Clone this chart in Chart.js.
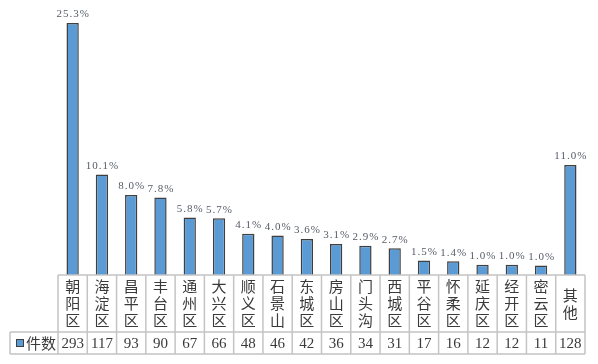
<!DOCTYPE html>
<html>
<head>
<meta charset="utf-8">
<script src="https://cdn.jsdelivr.net/npm/chart.js@4/dist/chart.umd.min.js"></script>
<style>
  html, body { margin: 0; padding: 0; background: #fff; }
  canvas { display: block; }
</style>
</head>
<body>
<canvas id="grafico" width="598" height="364"></canvas>
<script>
const districts = ['朝阳区', '海淀区', '昌平区', '丰台区', '通州区', '大兴区', '顺义区', '石景山', '东城区',
    '房山区', '门头沟', '西城区', '平谷区', '怀柔区', '延庆区', '经开区', '密云区', '其他'];
const counts = [293, 117, 93, 90, 67, 66, 48, 46, 42, 36, 34, 31, 17, 16, 12, 12, 11, 128];
const shares = ['25.3%', '10.1%', '8.0%', '7.8%', '5.8%', '5.7%', '4.1%', '4.0%', '3.6%',
    '3.1%', '2.9%', '2.7%', '1.5%', '1.4%', '1.0%', '1.0%', '1.0%', '11.0%'];
const seriesName = '件数';

const barFill = '#5B9BD5';
const barEdge = '#3f3f3f';
const gridColor = '#c4c4c4';
const cjkFont = '"Noto Sans CJK SC", "Noto Sans", sans-serif';
const numFont = '"Liberation Serif", "DejaVu Serif", serif';

// percent labels over the bars
const etiquetas = {
    id: 'etiquetas',
    afterDatasetsDraw(chart) {
        const ctx = chart.ctx;
        const meta = chart.getDatasetMeta(0);
        ctx.save();
        ctx.font = '11px ' + numFont;
        ctx.letterSpacing = '1px';
        ctx.fillStyle = '#555b66';
        ctx.textAlign = 'center';
        ctx.textBaseline = 'bottom';
        meta.data.forEach((bar, i) => {
            ctx.fillText(shares[i], bar.x + 0.5, bar.y - 3);
        });
        ctx.restore();
    }
};

// data table under the plot
const tabela = {
    id: 'tabela',
    afterDraw(chart) {
        const ctx = chart.ctx;
        const x = chart.scales.x;
        const area = chart.chartArea;
        const half = (x.getPixelForValue(1) - x.getPixelForValue(0)) / 2;
        const top = area.bottom;
        const mid = top + 57;
        const bot = top + 79;
        const legendLeft = 10;
        const left = x.getPixelForValue(0) - half;
        const right = x.getPixelForValue(districts.length - 1) + half;

        ctx.save();
        ctx.strokeStyle = gridColor;
        ctx.lineWidth = 1.5;
        ctx.beginPath();
        ctx.moveTo(left, top); ctx.lineTo(right, top);
        ctx.moveTo(legendLeft, mid); ctx.lineTo(right, mid);
        ctx.moveTo(legendLeft, bot); ctx.lineTo(right, bot);
        ctx.moveTo(legendLeft, mid); ctx.lineTo(legendLeft, bot);
        for (let i = 0; i <= districts.length; i++) {
            const px = x.getPixelForValue(i) - half;
            ctx.moveTo(px, top); ctx.lineTo(px, bot);
        }
        ctx.stroke();

        // category names, one character per line
        ctx.fillStyle = '#3a3a3a';
        ctx.font = '15px ' + cjkFont;
        ctx.textAlign = 'center';
        ctx.textBaseline = 'middle';
        const lineH = 17;
        districts.forEach((nome, i) => {
            const chars = nome.split('');
            const cx = x.getPixelForValue(i);
            const cy = (top + mid) / 2;
            const start = cy - (chars.length - 1) * lineH / 2;
            chars.forEach((c, k) => ctx.fillText(c, cx, start + k * lineH));
        });

        // counts row
        ctx.font = '15px ' + numFont;
        counts.forEach((v, i) => {
            ctx.fillText(String(v), x.getPixelForValue(i), (mid + bot) / 2 + 1);
        });

        // legend cell
        ctx.fillStyle = barFill;
        ctx.strokeStyle = barEdge;
        ctx.lineWidth = 1;
        ctx.fillRect(16.5, 339.5, 7, 7);
        ctx.strokeRect(16.5, 339.5, 7, 7);
        ctx.fillStyle = '#3a3a3a';
        ctx.textAlign = 'left';
        ctx.font = '15px ' + cjkFont;
        ctx.fillText(seriesName, 26, (mid + bot) / 2);
        ctx.restore();
    }
};

const grafico = new Chart(document.getElementById('grafico'), {
    type: 'bar',
    data: {
        labels: districts,
        datasets: [{
            label: seriesName,
            data: counts,
            backgroundColor: barFill,
            borderColor: barEdge,
            borderWidth: 1.5,
            categoryPercentage: 1,
            barPercentage: 0.42
        }]
    },
    options: {
        responsive: false,
        devicePixelRatio: 1,
        animation: false,
        layout: { padding: { left: 58, right: 13, top: 17, bottom: 89 } },
        plugins: {
            legend: { display: false },
            tooltip: { enabled: false }
        },
        scales: {
            x: { display: false, offset: true },
            y: { display: false, min: 0, max: 300 }
        }
    },
    plugins: [etiquetas, tabela]
});
</script>
</body>
</html>
